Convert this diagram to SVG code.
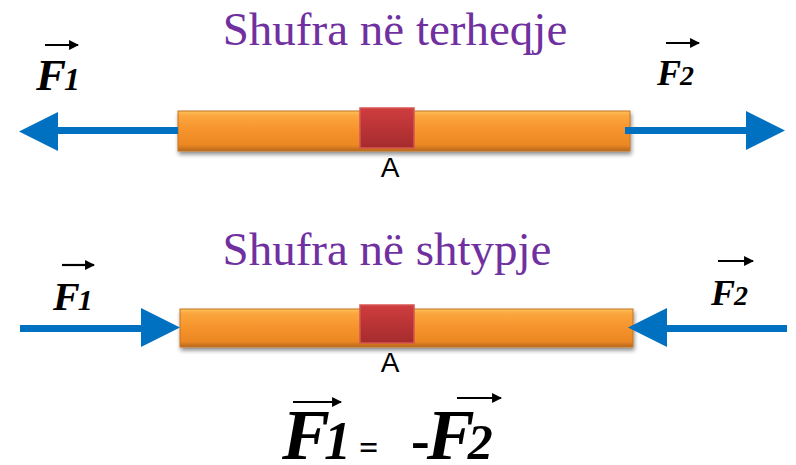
<svg xmlns="http://www.w3.org/2000/svg" width="796" height="465" viewBox="0 0 796 465">
<style>
.title{font-family:"Liberation Serif","Times New Roman",serif;font-size:47px;fill:#7030A0;text-anchor:middle}
.lbl{font-family:"Liberation Serif","Times New Roman",serif;font-weight:bold;font-style:italic;fill:#000}
.a{font-family:"Liberation Sans",Arial,sans-serif;font-size:28px;fill:#000;text-anchor:middle}
.force{stroke:#0070C0;stroke-width:7;fill:none}
.head{fill:#0070C0}
.vec{stroke:#000;stroke-width:2.2;fill:none}
.bar{fill:url(#barG);stroke:#C47422;stroke-width:1}
.sq{fill:url(#sqG);stroke:#D65550;stroke-width:1.5}
</style>
<defs>
<linearGradient id="barG" x1="0" y1="0" x2="0" y2="1">
<stop offset="0" stop-color="#FFC15A"/>
<stop offset="0.12" stop-color="#FBA63E"/>
<stop offset="0.5" stop-color="#F6922B"/>
<stop offset="0.85" stop-color="#EC8823"/>
<stop offset="1" stop-color="#B6671D"/>
</linearGradient>
<linearGradient id="sqG" x1="0" y1="0" x2="0" y2="1">
<stop offset="0" stop-color="#CF3D3F"/>
<stop offset="1" stop-color="#A52B2D"/>
</linearGradient>
<filter id="sh" x="-5%" y="-30%" width="110%" height="180%">
<feGaussianBlur in="SourceAlpha" stdDeviation="2"/>
<feOffset dx="1" dy="3" result="b"/>
<feComponentTransfer><feFuncA type="linear" slope="0.45"/></feComponentTransfer>
<feMerge><feMergeNode/><feMergeNode in="SourceGraphic"/></feMerge>
</filter>
<marker id="vh" viewBox="0 0 10 10" refX="9" refY="5" markerWidth="5" markerHeight="4.5" orient="auto" markerUnits="strokeWidth">
<path d="M0,0 L10,5 L0,10 Z" fill="#000"/>
</marker>
</defs>
<rect width="796" height="465" fill="#fff"/>

<text class="title" x="395" y="45">Shufra në terheqje</text>
<text class="title" x="387" y="265">Shufra në shtypje</text>

<g id="bar-top">
<rect class="bar" x="178" y="111" width="452" height="40" filter="url(#sh)"/>
<rect class="sq" x="360" y="108" width="54" height="40"/>
<text class="a" x="390" y="177">A</text>
</g>

<g id="bar-bottom">
<rect class="bar" x="180" y="309" width="453" height="38" filter="url(#sh)"/>
<rect class="sq" x="360" y="305" width="54" height="38"/>
<text class="a" x="390" y="372">A</text>
</g>

<g id="connectors">
<line class="force" x1="178" y1="130.5" x2="56" y2="130.5"/>
<polygon class="head" points="19,131.5 58,112 58,151"/>
<line class="force" x1="625" y1="130.5" x2="748" y2="130.5"/>
<polygon class="head" points="785,130.5 746,111 746,150"/>
<line class="force" x1="20" y1="328.5" x2="143" y2="328.5"/>
<polygon class="head" points="180,327.5 141,308 141,347"/>
<line class="force" x1="787" y1="328.5" x2="665" y2="328.5"/>
<polygon class="head" points="628,327.5 667,308 667,347"/>
</g>

<g id="label-f1-top">
<line class="vec" x1="45" y1="45" x2="78" y2="45" marker-end="url(#vh)"/>
<text class="lbl" x="36" y="90" font-size="45">F<tspan font-size="32" dx="-2">1</tspan></text>
</g>
<g id="label-f2-top">
<line class="vec" x1="666" y1="43" x2="699" y2="43" marker-end="url(#vh)"/>
<text class="lbl" x="657" y="85" font-size="36">F<tspan font-size="28" dx="-1">2</tspan></text>
</g>
<g id="label-f1-bottom">
<line class="vec" x1="62" y1="265" x2="94" y2="265" marker-end="url(#vh)"/>
<text class="lbl" x="53" y="310" font-size="40">F<tspan font-size="30" dx="-2">1</tspan></text>
</g>
<g id="label-f2-bottom">
<line class="vec" x1="718" y1="261" x2="753" y2="261" marker-end="url(#vh)"/>
<text class="lbl" x="711" y="305" font-size="36">F<tspan font-size="28" dx="-1">2</tspan></text>
</g>

<g id="formula">
<line class="vec" x1="293" y1="402" x2="341" y2="402" stroke-width="3" marker-end="url(#vh)"/>
<text class="lbl" x="282" y="459" font-size="72">F<tspan font-size="54" dx="-6">1</tspan></text>
<text x="359" y="459" font-family="Liberation Serif,serif" font-size="34" font-weight="bold">=</text>
<line class="vec" x1="457" y1="398" x2="501" y2="398" stroke-width="3" marker-end="url(#vh)"/>
<text class="lbl" x="411" y="459" font-size="72"><tspan font-style="normal" font-size="56">-</tspan><tspan dx="-3">F</tspan><tspan font-size="50" dx="-7">2</tspan></text>
</g>
</svg>
